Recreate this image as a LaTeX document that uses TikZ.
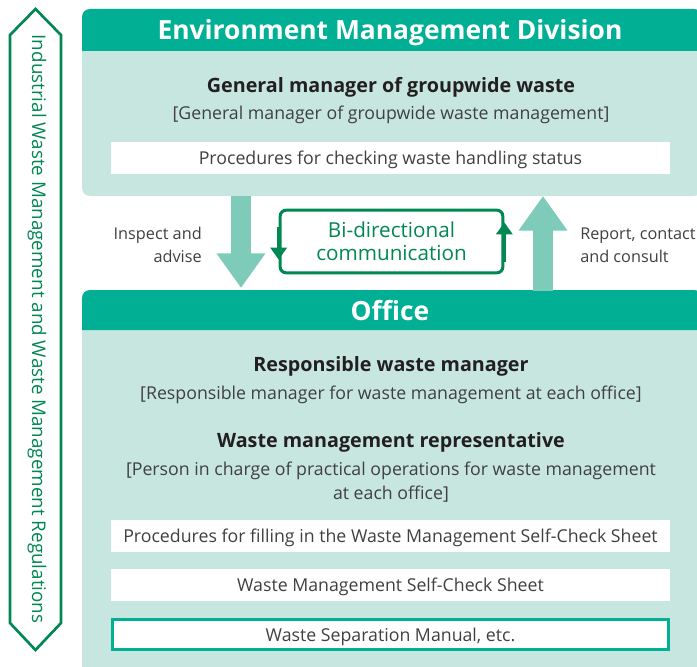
\documentclass[tikz,border=0pt]{standalone}
\usepackage{fontspec}
\setmainfont{Open Sans}
\usetikzlibrary{arrows.meta}
\definecolor{hdr}{RGB}{0,175,148}
\definecolor{pale}{RGB}{199,230,223}
\definecolor{arr}{RGB}{126,203,186}
\definecolor{dkg}{RGB}{0,135,82}
\definecolor{txt}{RGB}{64,64,64}
\definecolor{btxt}{RGB}{35,31,32}
\begin{document}
\begin{tikzpicture}[x=0.75pt,y=-0.75pt,
  head/.style={text=white,font=\fontsize{19.8}{22}\selectfont\bfseries},
  boss/.style={text=btxt,font=\fontsize{14.8}{17}\selectfont\bfseries},
  plain/.style={text=txt,font=\fontsize{13.3}{18.5}\selectfont,align=center},
  side/.style={text=txt,font=\fontsize{12.2}{17.3}\selectfont,inner sep=0pt},
  sheet/.style={plain,fill=white,minimum width=419pt,minimum height=24pt,inner sep=0pt,text height=10pt,text depth=0pt},
  fat/.style={draw=arr,line width=15pt,-{Triangle[length=26pt,width=35pt]}},
  loop/.style={draw=dkg,line width=2.25pt},
  looptip/.style={loop,-{Triangle[length=9pt,width=12pt]}}]
\useasboundingbox (0,0) rectangle (697,667);
% left banner
\draw[dkg,line width=2pt] (35.5,9) -- (61,35) -- (61,623) -- (35.5,650) -- (10,623) -- (10,35) -- cycle;
\node[rotate=-90,text=dkg,font=\fontsize{14.1}{16}\selectfont] (regs) at (37,329) {Industrial Waste Management and Waste Management Regulations};
% division panel
\fill[pale,rounded corners=6] (82,9) rectangle (702,196);
\fill[hdr] (82,51) {[rounded corners=6] -- (82,9) -- (702,9)} -- (702,51) -- cycle;
\node[head] (div) at (390,33) {Environment Management Division};
\node[boss] (gm) at (391,87) {General manager of groupwide waste};
\node[plain] (gmsub) at (391,115) {[General manager of groupwide waste management]};
\node[sheet] (chk) at (390.5,158) {Procedures for checking waste handling status};
% office panel
\fill[pale,rounded corners=6] (82,290) rectangle (702,675);
\fill[hdr] (82,330) {[rounded corners=6] -- (82,290) -- (702,290)} -- (702,330) -- cycle;
\node[head] (off) at (390,311) {Office};
\node[boss] (rwm) at (391,366) {Responsible waste manager};
\node[plain] (rwmsub) at (391,395) {[Responsible manager for waste management at each office]};
\node[boss] (wmr) at (391,442) {Waste management representative};
\node[plain] (wmrsub) at (391,482) {[Person in charge of practical operations for waste management\\at each office]};
\node[sheet] (fill) at (390.5,536) {Procedures for filling in the Waste Management Self-Check Sheet};
\node[sheet] (self) at (390.5,585) {Waste Management Self-Check Sheet};
\node[sheet,draw=hdr,line width=2.25pt,minimum width=417pt,minimum height=22.5pt] (manual) at (390.5,634.5) {Waste Separation Manual, etc.};
% arrows between the two
\coordinate (dtop) at (241,196);
\coordinate (dbot) at (241,288);
\coordinate (ubot) at (543,291);
\coordinate (utop) at (543,196);
\draw[fat] (dtop) -- (dbot);
\draw[fat] (ubot) -- (utop);
\node[side,align=right,anchor=east] (insp) at (202,245) {Inspect and\\advise};
\node[side,align=left,anchor=west] (rep) at (580,245) {Report, contact\\and consult};
\node[draw=dkg,line width=2.25pt,rounded corners=4.5pt,minimum width=167pt,minimum height=47pt,
  text=dkg,font=\fontsize{15.5}{17.5}\selectfont,align=center] (bd) at (391.5,241.5) {Bi-directional\\communication};
\draw[looptip] (bd.north west) ++(0,18) -- ++(0,33);
\draw[looptip] (bd.south east) ++(0,-12) -- ++(0,-40);
\end{tikzpicture}
\end{document}
